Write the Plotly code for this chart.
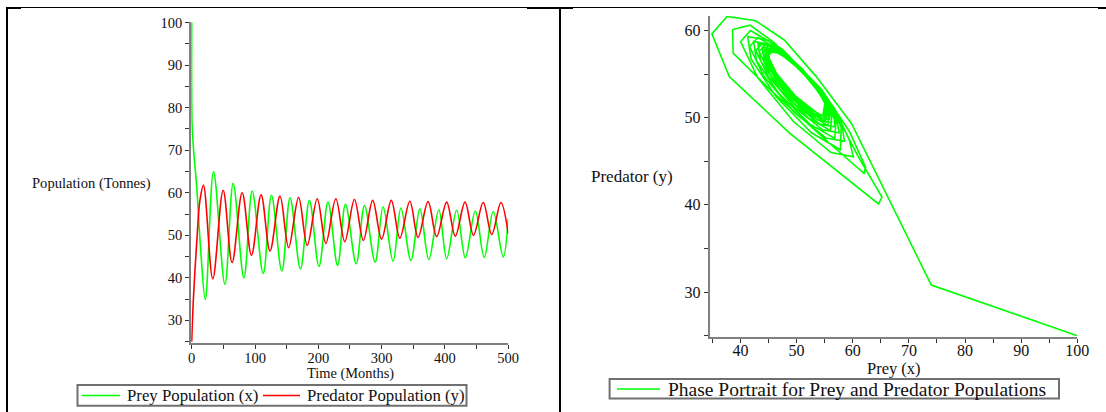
import plotly.graph_objects as go

W, H = 1106, 412

# ---------------- data: time series (extrema) ----------------
prey_t = [0, 0.6, 2.6, 5.2, 7.9, 14, 21.5, 34.5, 52.5, 65.5, 82.5, 95.5, 113.0, 126.0,
          142.4, 155.4, 171.8, 185.9, 201.1, 215.3, 230.5, 242.9, 259.9, 272.9, 289.8,
          302.3, 318.1, 330.5, 346.3, 360.5, 374.6, 390.4, 402.8, 418.6, 432.2, 448.0,
          462.1, 476.3, 492.1, 500]
prey_v = [100, 76, 70.8, 66.1, 61.4, 47, 34.9, 64.9, 38.5, 62.2, 40.0, 60.4, 41.0, 59.4,
          41.6, 58.8, 42.1, 58.2, 42.7, 57.8, 42.9, 57.3, 43.3, 57.0, 43.7,
          56.7, 43.9, 56.4, 44.1, 56.2, 44.3, 56.0, 44.5, 55.9, 44.7, 55.7,
          44.8, 55.6, 44.9, 53.9]

pred_t = [0, 2.6, 8, 13.1, 18.6, 33.3, 49.7, 63.8, 79.7, 94.4, 109.6, 123.7, 139.5,
          153.1, 168.9, 182.5, 198.3, 211.9, 227.7, 241.8, 257.1, 271.2, 285.9, 300.0,
          315.3, 328.8, 344.6, 357.6, 373.4, 387.0, 402.8, 416.4, 431.8, 445.2, 460.5,
          474.0, 488.5, 500]
pred_v = [25, 34.8, 48.5, 58.3, 61.8, 39.8, 60.6, 43.6, 60.0, 45.3, 59.5, 46.3, 59.2,
          47.1, 58.9, 47.6, 58.6, 48.1, 58.6, 48.5, 58.4, 48.8, 58.2, 49.1,
          58.2, 49.3, 58.0, 49.5, 57.9, 49.7, 57.8, 49.8, 57.8, 50.0, 57.7,
          50.2, 57.7, 50.4]

# ---------------- data: phase portrait vertices (prey x, predator y) ----------------
phase_prey = [100, 74.0, 59.8, 53.5, 47.8, 42.7, 37.6, 34.9, 38.0, 48.8, 64.6, 65.2,
              61.0, 56.9, 50.5, 46.0, 41.7, 38.6, 38.7, 45.6, 56.3, 62.0, 62.3,
              59.43, 54.45, 47.48, 41.78, 40.02, 43.03, 49.39, 56.12, 60.09,
              59.38, 56.67, 50.93, 44.86, 41.28, 41.88, 46.36, 52.65, 57.79,
              57.98, 53.79, 47.91, 43.10, 41.62, 44.15, 49.52, 55.20, 58.54,
              58.19, 55.81, 50.79, 45.47, 42.34, 42.86, 46.79, 52.30, 56.80,
              57.08, 53.40, 48.24, 44.02, 42.72, 44.94, 49.65, 54.63, 57.57,
              57.28, 55.16, 50.67, 45.92, 43.12, 43.59, 47.10, 52.02, 56.04,
              56.35, 53.00, 48.32, 44.50, 43.32, 45.34, 49.61, 54.13, 56.79,
              56.69, 54.77, 50.72, 46.42, 43.89, 44.31, 47.49, 51.94, 55.57,
              55.80, 52.76, 48.48, 44.99, 43.91, 45.76, 49.65, 53.78, 56.21,
              56.19, 54.41, 50.63, 46.63, 44.28, 44.67, 47.63, 51.76, 55.15,
              55.44, 52.59, 48.59, 45.32, 44.32, 46.04, 49.69, 53.55, 55.82,
              55.89, 54.21, 50.65, 46.89, 44.67, 45.04, 47.82, 51.72, 54.91,
              55.18, 52.50, 48.73, 45.66, 44.71, 46.33, 49.76, 53.40, 55.54,
              55.59, 54.00, 50.63, 47.06, 44.96, 45.31, 47.95, 51.64, 54.66,
              55.09, 52.48, 48.82, 45.83, 44.91, 46.49, 49.82, 53.9]
phase_pred = [25, 30.8, 49.3, 54.7, 58.9, 61.1, 61.6, 59.6, 54.7, 48.2, 40.1, 40.9,
              45.5, 50.6, 55.6, 58.6, 60.6, 60.1, 57.4, 53.0, 46.8, 43.6, 44.3,
              48.38, 53.23, 57.82, 59.99, 58.72, 54.61, 49.58, 46.00, 45.52,
              47.45, 51.14, 55.65, 58.87, 59.30, 56.73, 52.38, 48.26, 46.31,
              49.63, 53.63, 57.41, 59.19, 58.15, 54.76, 50.63, 47.67, 47.28,
              48.59, 51.74, 55.61, 58.36, 58.73, 56.53, 52.80, 49.28, 47.61,
              50.30, 53.77, 57.04, 58.59, 57.68, 54.75, 51.16, 48.60, 48.26,
              49.38, 52.20, 55.66, 58.12, 58.45, 56.49, 53.15, 50.00, 48.51,
              50.81, 53.98, 56.98, 58.40, 57.57, 54.88, 51.60, 49.25, 48.94,
              49.90, 52.44, 55.55, 57.76, 58.06, 56.29, 53.29, 50.45, 49.11,
              51.16, 54.10, 56.88, 58.20, 57.43, 54.94, 51.89, 49.72, 49.43,
              50.24, 52.62, 55.52, 57.59, 57.87, 56.22, 53.41, 50.76, 49.51,
              51.42, 54.13, 56.69, 57.90, 57.19, 54.89, 52.09, 50.09, 49.82,
              50.50, 52.73, 55.47, 57.42, 57.68, 56.12, 53.48, 50.99, 49.81,
              51.64, 54.21, 56.64, 57.79, 57.12, 54.94, 52.27, 50.37, 50.12,
              50.85, 52.95, 55.52, 57.35, 57.59, 56.13, 53.65, 51.31, 50.20,
              51.85, 54.29, 56.60, 57.69, 57.06, 54.99, 52.46, 50.4]

left_yticks = [30, 40, 50, 60, 70, 80, 90, 100]
left_xticks = [0, 100, 200, 300, 400, 500]
right_xticks = [40, 50, 60, 70, 80, 90, 100]
right_yticks = [30, 40, 50, 60]

FONT = "Liberation Serif"
GREEN = "#00ff00"
RED = "#ff0000"
TXT = "#111111"


def px(x):
    return x / W


def py(y):
    return (H - y) / H


fig = go.Figure()
fig.add_trace(go.Scatter(x=prey_t, y=prey_v, mode="lines", name="Prey Population (x)",
                         line=dict(color=GREEN, width=1.6, shape="spline", smoothing=1.0),
                         xaxis="x", yaxis="y"))
fig.add_trace(go.Scatter(x=pred_t, y=pred_v, mode="lines", name="Predator Population (y)",
                         line=dict(color=RED, width=1.6, shape="spline", smoothing=1.0),
                         xaxis="x", yaxis="y"))
fig.add_trace(go.Scatter(x=phase_prey, y=phase_pred, mode="lines",
                         name="Phase Portrait for Prey and Predator Populations",
                         line=dict(color=GREEN, width=1.6),
                         xaxis="x2", yaxis="y2"))

axis_common = dict(showgrid=False, zeroline=False, showline=True, linecolor="#808080",
                   linewidth=2, ticks="outside", ticklen=4, tickwidth=1, tickcolor="#333",
                   fixedrange=True, automargin=False, layer="below traces")

fig.update_layout(
    template="none",
    width=W, height=H, margin=dict(l=0, r=0, t=0, b=0, pad=0),
    paper_bgcolor="white", plot_bgcolor="white",
    font=dict(family=FONT, color=TXT),
    showlegend=False,
    xaxis=dict(domain=[px(191.2), px(508.2)], anchor="y", range=[-0.8, 500],
               tickvals=left_xticks, tickfont=dict(size=14.5), ticklabelstandoff=-3,
               minor=dict(tickvals=[50, 150, 250, 350, 450], ticks="outside", ticklen=4,
                          tickcolor="#333"),
               **axis_common),
    yaxis=dict(domain=[py(342.5), py(21.7)], anchor="x", range=[24.8, 100.2],
               tickvals=left_yticks, tickfont=dict(size=14.5),
               minor=dict(dtick=5, ticks="outside", ticklen=4, tickcolor="#333"),
               **axis_common),
    xaxis2=dict(domain=[px(709.6), px(1077.3)], anchor="y2", range=[34.5, 100],
                tickvals=right_xticks, tickfont=dict(size=16), ticklabelstandoff=-6,
                minor=dict(dtick=5, ticks="outside", ticklen=4, tickcolor="#333"),
                **axis_common),
    yaxis2=dict(domain=[py(336.7), py(16)], anchor="x2", range=[24.88, 61.65],
                tickvals=right_yticks, tickfont=dict(size=16),
                minor=dict(dtick=5, ticks="outside", ticklen=4, tickcolor="#333"),
                **axis_common),
)

annotations = [
    dict(text="Population (Tonnes)", x=px(91), y=py(183), size=14.6, xanchor="center"),
    dict(text="Time (Months)", x=px(350), y=py(373.5), size=14.4, xanchor="center"),
    dict(text="Predator (y)", x=px(631.5), y=py(176.7), size=17, xanchor="center"),
    dict(text="Prey (x)", x=px(893.5), y=py(368), size=16.5, xanchor="center"),
    # legend texts
    dict(text="Prey Population (x)", x=px(125), y=py(395.5), size=16.8, xanchor="left"),
    dict(text="Predator Population (y)", x=px(305), y=py(395.5), size=16.8, xanchor="left"),
    dict(text="Phase Portrait for Prey and Predator Populations", x=px(666), y=py(389),
         size=19.5, xanchor="left"),
]
anns = []
for a in annotations:
    anns.append(dict(text=a["text"], x=a["x"], y=a["y"], xref="paper", yref="paper",
                     showarrow=False, xanchor=a["xanchor"], yanchor="middle",
                     font=dict(family=FONT, size=a["size"], color=TXT)))
fig.update_layout(annotations=anns)

shapes = []


def hline(x0, x1, y, w, color="black"):
    shapes.append(dict(type="line", xref="paper", yref="paper", x0=px(x0), x1=px(x1),
                       y0=py(y), y1=py(y), line=dict(color=color, width=w)))


def vline(x, y0, y1, w):
    shapes.append(dict(type="line", xref="paper", yref="paper", x0=px(x), x1=px(x),
                       y0=py(y0), y1=py(y1), line=dict(color="black", width=w)))


def box(x0, y0, x1, y1):
    shapes.append(dict(type="rect", xref="paper", yref="paper", x0=px(x0), x1=px(x1),
                       y0=py(y1), y1=py(y0), line=dict(color="#707070", width=2),
                       fillcolor="white", layer="below"))


# panel frame lines
hline(7, 1106, 7.5, 1)
hline(7, 21, 8, 2)
hline(527, 573, 8, 2)
hline(1098, 1106, 8, 2)
vline(7, 7, 412, 2)
vline(560, 7, 412, 2)

# legend boxes and line samples
box(77.5, 385, 466.5, 405.7)
hline(81.7, 120, 395.5, 1.6, GREEN)
hline(263, 300, 395.5, 1.6, RED)
box(609.6, 379, 1059, 398.5)
hline(617, 660, 389, 1.6, GREEN)

fig.update_layout(shapes=shapes)

fig.write_html("out.html")
